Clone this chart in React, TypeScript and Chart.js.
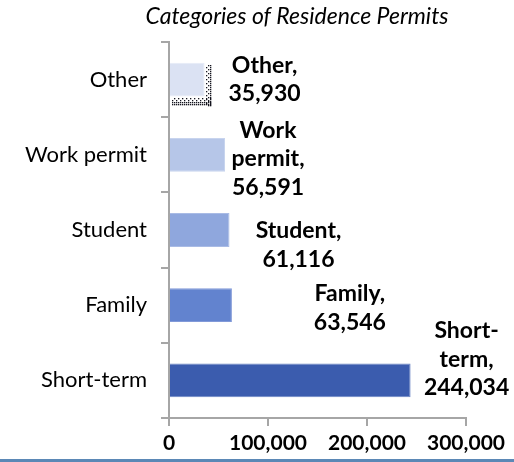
import React, { useEffect, useRef } from "react";
import { Chart, registerables } from "chart.js";

Chart.register(...registerables);

const TITLE = "Categories of Residence Permits";
const CATEGORIES = ["Other", "Work permit", "Student", "Family", "Short-term"];
const VALUES = [35930, 56591, 61116, 63546, 244034];
const LABEL_LINES = [
  ["Other,", "35,930"],
  ["Work", "permit,", "56,591"],
  ["Student,", "61,116"],
  ["Family,", "63,546"],
  ["Short-", "term,", "244,034"],
];
const X_MIN = 0;
const X_MAX = 300000;
const X_STEP = 100000;
const BAR_COLORS = ["#dbe2f3", "#b6c6e8", "#8fa7dd", "#6283cf", "#3b5cae"];
const BAR_BORDERS = ["#e6ebf7", "#c8d4ee", "#a9bbe5", "#8199d8", "#6c86c4"];

// label block placement relative to bar end / bar centre (pixels)
const LABEL_DX = [60, 43, 69, 118, 56];
const LABEL_DY = [0, 4, 15, 3, -21];

const FONT = "Lato, 'Open Sans', sans-serif";

const decorPlugin = {
  id: "decor",
  afterDatasetsDraw(chart: any) {
    const ctx = chart.ctx;
    const meta = chart.getDatasetMeta(0);
    ctx.save();
    // dotted shadow on the "Other" bar
    const b0 = meta.data[0];
    if (b0) {
      const top = b0.y - b0.height / 2;
      const bottom = b0.y + b0.height / 2;
      const left = b0.base;
      const right = b0.x;
      ctx.fillStyle = "rgba(10,10,20,0.95)";
      for (let x = Math.round(left) + 2; x < right + 7; x += 2) {
        for (let y = Math.round(bottom) + 1; y < bottom + 9; y += 2) {
          if (((x + y) >> 1) % 2 === 0 || y > bottom + 5) ctx.fillRect(x, y, 1.3, 1.3);
        }
      }
      for (let x = Math.round(right) + 1; x < right + 7; x += 2) {
        for (let y = Math.round(top) + 2; y < bottom + 9; y += 2) {
          if (((x + y) >> 1) % 2 === 0 || x > right + 4) ctx.fillRect(x, y, 1.3, 1.3);
        }
      }
    }
    // data labels
    ctx.fillStyle = "#000";
    ctx.font = `bold 23px ${FONT}`;
    ctx.textAlign = "center";
    ctx.textBaseline = "middle";
    const lh = 28.5;
    meta.data.forEach((bar: any, i: number) => {
      const lines = LABEL_LINES[i];
      const cx = bar.x + LABEL_DX[i];
      const cy = bar.y + LABEL_DY[i];
      const start = cy - ((lines.length - 1) * lh) / 2;
      lines.forEach((t, j) => ctx.fillText(t, cx, start + j * lh));
    });
    // title
    ctx.font = `italic 23px ${FONT}`;
    ctx.fillText(TITLE, 297, 17);
    // bottom blue rule
    ctx.fillStyle = "#5b88b6";
    ctx.fillRect(0, 459, chart.width, 3);
    ctx.restore();
  },
};

export default function App() {
  const ref = useRef<HTMLCanvasElement | null>(null);
  useEffect(() => {
    if (!ref.current) return;
    Chart.defaults.color = "#000";
    const chart = new Chart(ref.current, {
      type: "bar",
      data: {
        labels: CATEGORIES,
        datasets: [
          {
            data: VALUES,
            backgroundColor: BAR_COLORS,
            borderColor: BAR_BORDERS,
            borderWidth: 1,
            barPercentage: 0.45,
            categoryPercentage: 1,
          },
        ],
      },
      options: {
        indexAxis: "y",
        responsive: false,
        animation: false,
        layout: { padding: { top: 42, right: 48, left: 0, bottom: 0 } },
        plugins: {
          legend: { display: false },
          title: { display: false },
          tooltip: { enabled: false },
        },
        scales: {
          x: {
            min: X_MIN,
            max: X_MAX,
            afterFit: (s: any) => {
              s.height = 44;
            },
            ticks: {
              stepSize: X_STEP,
              padding: 5,
              color: "#000",
              font: { family: FONT, size: 21, weight: "bold" },
              callback: (v: any) => Number(v).toLocaleString("en-US"),
            },
            grid: {
              drawOnChartArea: false,
              drawTicks: true,
              tickLength: 8,
              color: "#a6a6a6",
              lineWidth: 2,
            },
            border: { display: true, color: "#a6a6a6", width: 2 },
          },
          y: {
            afterFit: (s: any) => {
              s.width = 169;
            },
            ticks: {
              padding: 14,
              color: "#000",
              font: { family: FONT, size: 22 },
            },
            grid: {
              offset: true,
              drawOnChartArea: false,
              drawTicks: true,
              tickLength: 8,
              color: "#a6a6a6",
              lineWidth: 2,
            },
            border: { display: true, color: "#a6a6a6", width: 2 },
          },
        },
      },
      plugins: [decorPlugin],
    } as any);
    return () => chart.destroy();
  }, []);
  return (
    <div style={{ position: "absolute", left: 0, top: 0, width: 514, height: 462, background: "#fff" }}>
      <canvas ref={ref} width={514} height={462} />
    </div>
  );
}
